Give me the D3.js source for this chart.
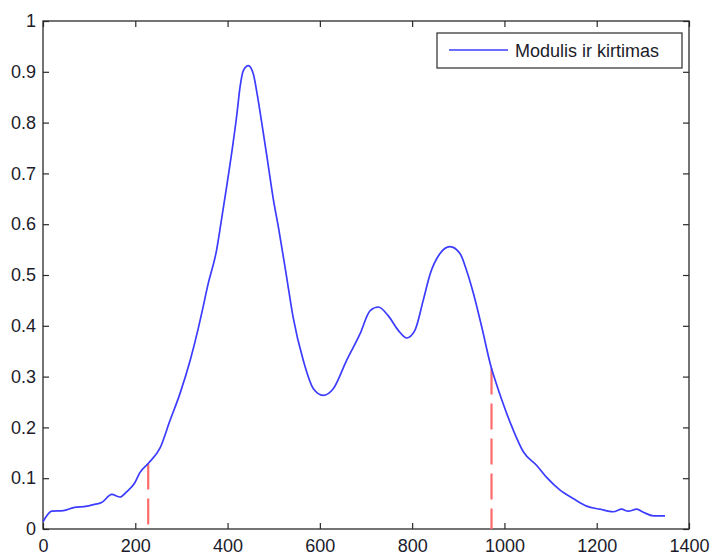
<!DOCTYPE html>
<html>
<head>
<meta charset="utf-8">
<script src="https://cdn.jsdelivr.net/npm/d3@7"></script>
<style>
  body { margin: 0; background: #fff; }
  text { font-family: "Liberation Sans", Arial, sans-serif; }
</style>
</head>
<body>
<div id="chart"></div>
<script>
  // shared config
  var width  = 712,
      height = 555;

  // data
  var xs = [0, 19, 44, 66, 95, 109, 127, 149, 167, 181, 199, 210, 228, 254, 275, 297,
            319, 337, 344, 358, 376, 387, 397, 412, 420, 427, 434, 445, 456, 463, 474,
            485, 499, 511, 528, 542, 564, 586, 607, 629, 658, 687, 709, 727, 748, 770,
            788, 806, 824, 839, 860, 882, 904, 918, 933, 951, 972, 980, 994, 1019, 1041,
            1070, 1092, 1120, 1149, 1178, 1207, 1236, 1254, 1268, 1287, 1301, 1323, 1348];
  var ys = [0.014, 0.035, 0.036, 0.042, 0.045, 0.048, 0.052, 0.068, 0.063, 0.073, 0.091,
            0.111, 0.129, 0.160, 0.213, 0.267, 0.332, 0.397, 0.425, 0.483, 0.548, 0.610,
            0.668, 0.760, 0.815, 0.870, 0.902, 0.912, 0.895, 0.862, 0.800, 0.735, 0.650,
            0.590, 0.496, 0.417, 0.332, 0.276, 0.263, 0.276, 0.332, 0.384, 0.430, 0.437,
            0.420, 0.391, 0.376, 0.391, 0.450, 0.502, 0.542, 0.556, 0.542, 0.509, 0.463,
            0.397, 0.316, 0.293, 0.255, 0.195, 0.152, 0.125, 0.101, 0.077, 0.060, 0.045,
            0.039, 0.034, 0.039, 0.035, 0.039, 0.033, 0.026, 0.026];

  // red dashed cut markers
  var cutX = [228, 972],
      cutY = [0.129, 0.316];

  var xTicks = [0, 200, 400, 600, 800, 1000, 1200, 1400],
      yTicks = [0, 0.1, 0.2, 0.3, 0.4, 0.5, 0.6, 0.7, 0.8, 0.9, 1];

  var seriesName = 'Modulis ir kirtimas';

  // plot box (careful: 'top' is window.top)
  var boxL = 43, boxR = 689, boxT = 21, boxB = 529;

  var x = d3.scaleLinear().domain([0, 1400]).range([boxL, boxR]);
  var y = d3.scaleLinear().domain([0, 1]).range([boxB, boxT]);

  var svg = d3.select('#chart').append('svg')
    .attr('width', width)
    .attr('height', height);

  var fmt = function(d){ return d3.format('')(d) };

  // axes, ticks pointing inwards
  var gx = svg.append('g')
    .attr('transform', 'translate(0,' + boxB + ')')
    .call(d3.axisBottom(x).tickValues(xTicks).tickSize(-6).tickPadding(10).tickFormat(fmt));
  var gy = svg.append('g')
    .attr('transform', 'translate(' + boxL + ',0)')
    .call(d3.axisLeft(y).tickValues(yTicks).tickSize(-6).tickPadding(7).tickFormat(fmt));
  var gt = svg.append('g')
    .attr('transform', 'translate(0,' + boxT + ')')
    .call(d3.axisTop(x).tickValues(xTicks).tickSize(-6).tickFormat(''));
  var gr = svg.append('g')
    .attr('transform', 'translate(' + boxR + ',0)')
    .call(d3.axisRight(y).tickValues(yTicks).tickSize(-6).tickFormat(''));

  [gx, gy, gt, gr].forEach(function(g){
    g.select('.domain').remove();
    g.selectAll('.tick line').attr('stroke', '#2a2a2a').attr('stroke-width', 1.2);
    g.selectAll('.tick text')
      .attr('fill', '#1c1c2a')
      .style('font-size', '18px')
      .style('font-family', '"Liberation Sans", Arial, sans-serif');
  });

  // box
  svg.append('rect')
    .attr('x', boxL).attr('y', boxT)
    .attr('width', boxR - boxL).attr('height', boxB - boxT)
    .attr('fill', 'none')
    .attr('stroke', '#2a2a2a')
    .attr('stroke-width', 1.3);

  // cut markers
  svg.selectAll('.cut').data(cutX)
    .enter().append('line')
    .attr('class', 'cut')
    .attr('x1', function(d){ return x(d) })
    .attr('x2', function(d){ return x(d) })
    .attr('y1', function(d, i){ return y(cutY[i]) })
    .attr('y2', y(0))
    .attr('stroke', '#ff6b6b')
    .attr('stroke-width', 2.2)
    .attr('stroke-dasharray', '26,9');

  // the curve
  var pts = xs.map(function(d, i){ return [d, ys[i]] });
  var line = d3.line()
    .x(function(d){ return x(d[0]) })
    .y(function(d){ return y(d[1]) })
    .curve(d3.curveMonotoneX);

  svg.append('path')
    .datum(pts)
    .attr('d', line)
    .attr('fill', 'none')
    .attr('stroke', '#3c3cff')
    .attr('stroke-width', 1.7)
    .attr('stroke-linejoin', 'round');

  // legend
  var lg = svg.append('g').attr('transform', 'translate(437,33)');
  lg.append('rect')
    .attr('width', 245).attr('height', 35)
    .attr('fill', '#fff')
    .attr('stroke', '#2a2a2a')
    .attr('stroke-width', 1.2);
  lg.append('line')
    .attr('x1', 12).attr('x2', 71)
    .attr('y1', 17).attr('y2', 17)
    .attr('stroke', '#3c3cff')
    .attr('stroke-width', 1.7);
  lg.append('text')
    .attr('x', 78).attr('y', 24)
    .attr('fill', '#1c1c2a')
    .style('font-size', '18px')
    .text(seriesName);
</script>
</body>
</html>
